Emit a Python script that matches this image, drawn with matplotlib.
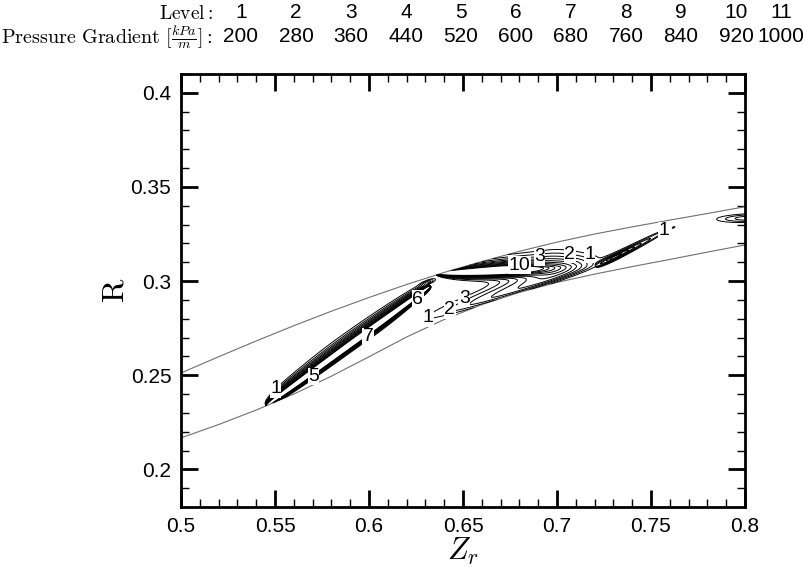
import numpy as np
import matplotlib
matplotlib.use("Agg")
import matplotlib.pyplot as plt
from matplotlib.ticker import MultipleLocator

plt.rcParams['font.family'] = ['Liberation Sans', 'DejaVu Sans']
plt.rcParams['mathtext.fontset'] = 'cm'

# contour levels (Tecplot style legend)
level_ids = [1, 2, 3, 4, 5, 6, 7, 8, 9, 10, 11]
pressure_gradient = [200, 280, 360, 440, 520, 600, 680, 760, 840, 920, 1000]

# passage walls (hub / shroud lines)
upper_z = [0.50, 0.52, 0.54, 0.56, 0.58, 0.60, 0.62, 0.64, 0.66, 0.68, 0.70, 0.72, 0.74, 0.76, 0.78, 0.80]
upper_r = [0.2512, 0.2598, 0.2682, 0.2763, 0.2840, 0.2913, 0.2982, 0.3046, 0.3104, 0.3158,
           0.3207, 0.3250, 0.3288, 0.3324, 0.3359, 0.3395]
lower_z = [0.50, 0.52, 0.54, 0.56, 0.58, 0.60, 0.62, 0.64, 0.66, 0.68, 0.70, 0.72, 0.74, 0.76, 0.78, 0.80]
lower_r = [0.2167, 0.2238, 0.2315, 0.2400, 0.2495, 0.2598, 0.2703, 0.2796, 0.2875, 0.2940,
           0.2993, 0.3037, 0.3077, 0.3115, 0.3154, 0.3192]

# high gradient spots [kPa/m]
# kind: 's' spindle (pointed both ends), 'l' lens (pointed upstream), 'b' round bump
spot_kind = ['s', 'b', 'b', 'l', 'b', 's', 'b', 'b', 'b']
spot_z = [0.589, 0.690, 0.695, 0.668, 0.6315, 0.7388, 0.731, 0.803, 0.762]
spot_r = [0.2655, 0.2995, 0.3090, 0.3058, 0.2995, 0.3172, 0.3128, 0.3335, 0.3285]
spot_amp = [1500, 520, 380, 1400, 320, 300, 350, 420, 250]
spot_ang = [36, 18, 8, 3, 20, 27, 27, 2, 27]
spot_back = [0.054, 0.063, 0.050, 0.033, 0.004, 0.0205, 0.006, 0.021, 0.0015]
spot_front = [0.054, 0.030, 0.022, 0.024, 0.004, 0.0205, 0.016, 0.021, 0.0015]
spot_top = [0.0036, 0.0060, 0.0090, 0.0030, 0.0012, 0.0022, 0.0011, 0.0027, 0.0007]
spot_bot = [0.0024, 0.0030, 0.0060, 0.0030, 0.0012, 0.0022, 0.0011, 0.0027, 0.0007]
spot_ptop = [1.2, 2, 2, 1.2, 2, 2, 2, 2, 2]
spot_pbot = [2, 2, 2, 2, 2, 2, 2, 2, 2]

# where the level numbers sit on the lines
label_levels = [1, 5, 7, 6, 1, 2, 3, 10, 3, 2, 1, 1]
label_pos = [(0.5525, 0.2405), (0.5711, 0.2485), (0.5986, 0.2715), (0.6248, 0.2918),
             (0.6286, 0.2795), (0.6401, 0.2866), (0.6507, 0.2910), (0.6800, 0.3075),
             (0.6905, 0.3159), (0.7070, 0.3168), (0.7176, 0.3158), (0.7578, 0.3283)]


def spot(Z, R, kind, z0, r0, amp, back, front, top, bot, ang, ptop, pbot):
    a = np.deg2rad(ang)
    dz, dr = Z - z0, R - r0
    u = dz * np.cos(a) + dr * np.sin(a)
    v = -dz * np.sin(a) + dr * np.cos(a)
    lu = np.where(u < 0, back, front)
    scale = np.ones_like(u)
    along = (u / lu) ** 2
    if kind == 's':
        scale = np.clip(1 - along, 1e-9, None) ** 0.35
        along = np.where(along < 1, 0.0, np.inf)
    elif kind == 'l':
        tip = np.sqrt(np.clip(1 - along, 1e-9, None))
        scale = np.where(u < 0, tip, 1.0)
        along = np.where(u < 0, np.where(along < 1, 0.0, np.inf), along)
    lv = np.where(v > 0, top, bot) * scale
    p = np.where(v > 0, ptop, pbot)
    return amp * np.exp(-along - np.abs(v / lv) ** p)


z = np.linspace(0.5, 0.8, 1600)
r = np.linspace(0.2, 0.35, 1000)
Z, R = np.meshgrid(z, r)
field = np.zeros_like(Z)
for i in range(len(spot_z)):
    field += spot(Z, R, spot_kind[i], spot_z[i], spot_r[i], spot_amp[i], spot_back[i],
                  spot_front[i], spot_top[i], spot_bot[i], spot_ang[i],
                  spot_ptop[i], spot_pbot[i])

r_up = np.interp(z, upper_z, upper_r)
r_lo = np.interp(z, lower_z, lower_r)
field[(R > r_up[None, :]) | (R < r_lo[None, :])] = np.nan

fig = plt.figure(figsize=(8.04, 5.67), dpi=100)
ax = fig.add_axes([181 / 804, 60 / 567, 564 / 804, 433 / 567])

ax.plot(upper_z, upper_r, color='#707070', lw=0.8)
ax.plot(lower_z, lower_r, color='#707070', lw=0.8)

cs = ax.contour(Z, R, field, levels=pressure_gradient, colors='k', linewidths=0.7)

# tecplot puts upright numbers with a white box on the line
for lid, pos in zip(label_levels, label_pos):
    segs = cs.allsegs[lid - 1]
    px, py = pos
    best = None
    for sg in segs:
        if len(sg) == 0:
            continue
        d = (sg[:, 0] - px) ** 2 + (sg[:, 1] - py) ** 2
        k = np.argmin(d)
        if best is None or d[k] < best[0]:
            best = (d[k], sg[k, 0], sg[k, 1])
    if best is not None and best[0] < 0.004 ** 2:
        px, py = best[1], best[2]
    ax.text(px, py, str(lid), ha='center', va='center', fontsize=14, zorder=5,
            bbox=dict(facecolor='white', edgecolor='none', pad=0.3))

ax.set_xlim(0.5, 0.8)
ax.set_ylim(0.18, 0.41)
ax.xaxis.set_major_locator(MultipleLocator(0.05))
ax.xaxis.set_minor_locator(MultipleLocator(0.01))
ax.yaxis.set_major_locator(MultipleLocator(0.05))
ax.yaxis.set_minor_locator(MultipleLocator(0.01))
ax.xaxis.set_major_formatter(lambda v, p: f'{v:g}')
ax.yaxis.set_major_formatter(lambda v, p: f'{v:g}')
ax.tick_params(which='both', direction='in', top=True, right=True, labelsize=15)
ax.tick_params(which='major', length=12, width=2, pad=7)
ax.tick_params(which='minor', length=6, width=1)
for sp in ax.spines.values():
    sp.set_linewidth(2)

ax.set_xlabel(r'$Z_r$', fontsize=22, labelpad=0)
ax.set_ylabel(r'$\mathrm{R}$', fontsize=23, labelpad=0)

# legend header on top
fig.text(213 / 804, 1 - 14 / 567, r'$\mathrm{Level:}$', ha='right', va='center', fontsize=14)
fig.text(213 / 804, 1 - 37 / 567, r'$\mathrm{Pressure\ Gradient}\ [\frac{kPa}{m}]\mathrm{:}$',
         ha='right', va='center', fontsize=14.5)
head_x = [241, 296, 351, 406, 461, 516, 571, 626, 681, 736, 781]
for hx, lid, pg in zip(head_x, level_ids, pressure_gradient):
    fig.text(hx / 804, 1 - 13 / 567, str(lid), ha='center', va='center', fontsize=15)
    fig.text(hx / 804, 1 - 36 / 567, str(pg), ha='center', va='center', fontsize=15)

fig.savefig('out.png', dpi=100)
